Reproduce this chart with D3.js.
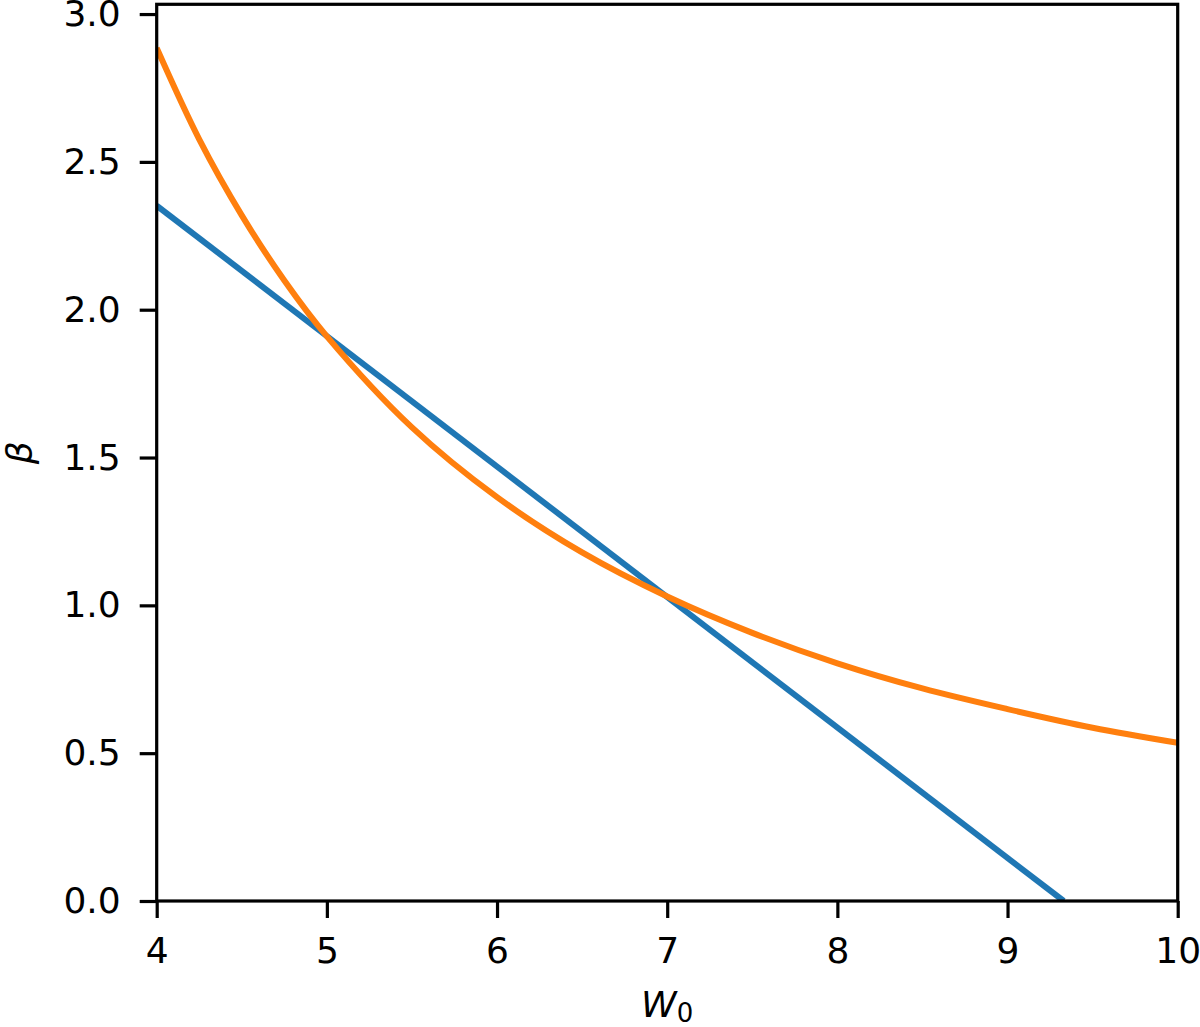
<!DOCTYPE html>
<html>
<head>
<meta charset="utf-8">
<title>beta vs W0</title>
<script src="https://d3js.org/d3.v7.min.js"></script>
<style>
  body { margin: 0; background: #fff; }
  text { font-family: "DejaVu Sans", sans-serif; }
</style>
</head>
<body>
<script>
// values
var w0Blue = [4, 9.33];
var betaBlue = [2.352, 0];

var w0Orange = [4, 4.25, 4.5, 4.75, 5, 5.5, 6, 6.5, 7, 7.5, 8, 8.5, 9, 9.5, 10];
var betaOrange = [2.885, 2.576, 2.319, 2.099, 1.910, 1.602, 1.366, 1.179, 1.030, 0.907, 0.804, 0.719, 0.649, 0.586, 0.535];

var xTicks = [4, 5, 6, 7, 8, 9, 10];
var yTicks = [0, 0.5, 1, 1.5, 2, 2.5, 3];

var width = 1200, height = 1027;
var margin = {top: 4.3, right: 22.3, bottom: 126, left: 156.7};
var w = width - margin.left - margin.right,
    h = height - margin.top - margin.bottom;

var svg = d3.select("body").append("svg")
    .attr("width", width)
    .attr("height", height);

var g = svg.append("g")
    .attr("transform", "translate(" + margin.left + "," + margin.top + ")");

var x = d3.scaleLinear().domain([4, 10]).range([0, w]);
var y = d3.scaleLinear().domain([0, 3.033]).range([h, 0]);

g.append("clipPath").attr("id", "clip")
  .append("rect").attr("width", w).attr("height", h);

var line = d3.line()
    .x(function(d) { return x(d[0]); })
    .y(function(d) { return y(d[1]); });

g.append("path")
    .datum(d3.zip(w0Blue, betaBlue))
    .attr("clip-path", "url(#clip)")
    .attr("fill", "none")
    .attr("stroke", "#1f77b4")
    .attr("stroke-width", 6)
    .attr("d", line);

g.append("path")
    .datum(d3.zip(w0Orange, betaOrange))
    .attr("clip-path", "url(#clip)")
    .attr("fill", "none")
    .attr("stroke", "#ff7f0e")
    .attr("stroke-width", 6)
    .attr("d", line.curve(d3.curveCatmullRom));

// axes
var xAxis = g.append("g")
    .attr("transform", "translate(0," + h + ")")
    .call(d3.axisBottom(x).tickValues(xTicks).tickSize(17).tickPadding(19)
      .tickFormat(d3.format("d")));

var yAxis = g.append("g")
    .call(d3.axisLeft(y).tickValues(yTicks).tickSize(17).tickPadding(19)
      .tickFormat(d3.format(".1f")));

[xAxis, yAxis].forEach(function(a) {
  a.select(".domain").remove();
  a.selectAll(".tick line").attr("stroke", "#000").attr("stroke-width", 3.2);
  a.selectAll(".tick text").attr("fill", "#000").style("font-size", "36px");
});

// frame
g.append("rect")
    .attr("width", w)
    .attr("height", h)
    .attr("fill", "none")
    .attr("stroke", "#000")
    .attr("stroke-width", 3.2);

// axis labels
var xl = svg.append("text")
    .attr("x", margin.left + x(7))
    .attr("y", 1017)
    .attr("text-anchor", "middle")
    .style("font-size", "36px");
xl.append("tspan").style("font-style", "italic").text("W");
xl.append("tspan").attr("dy", 5).style("font-size", "26px").text("0");

svg.append("text")
    .attr("transform", "translate(32," + (margin.top + h / 2) + ") rotate(-90)")
    .attr("text-anchor", "middle")
    .style("font-size", "36px")
    .style("font-style", "italic")
    .text("β");
</script>
</body>
</html>
